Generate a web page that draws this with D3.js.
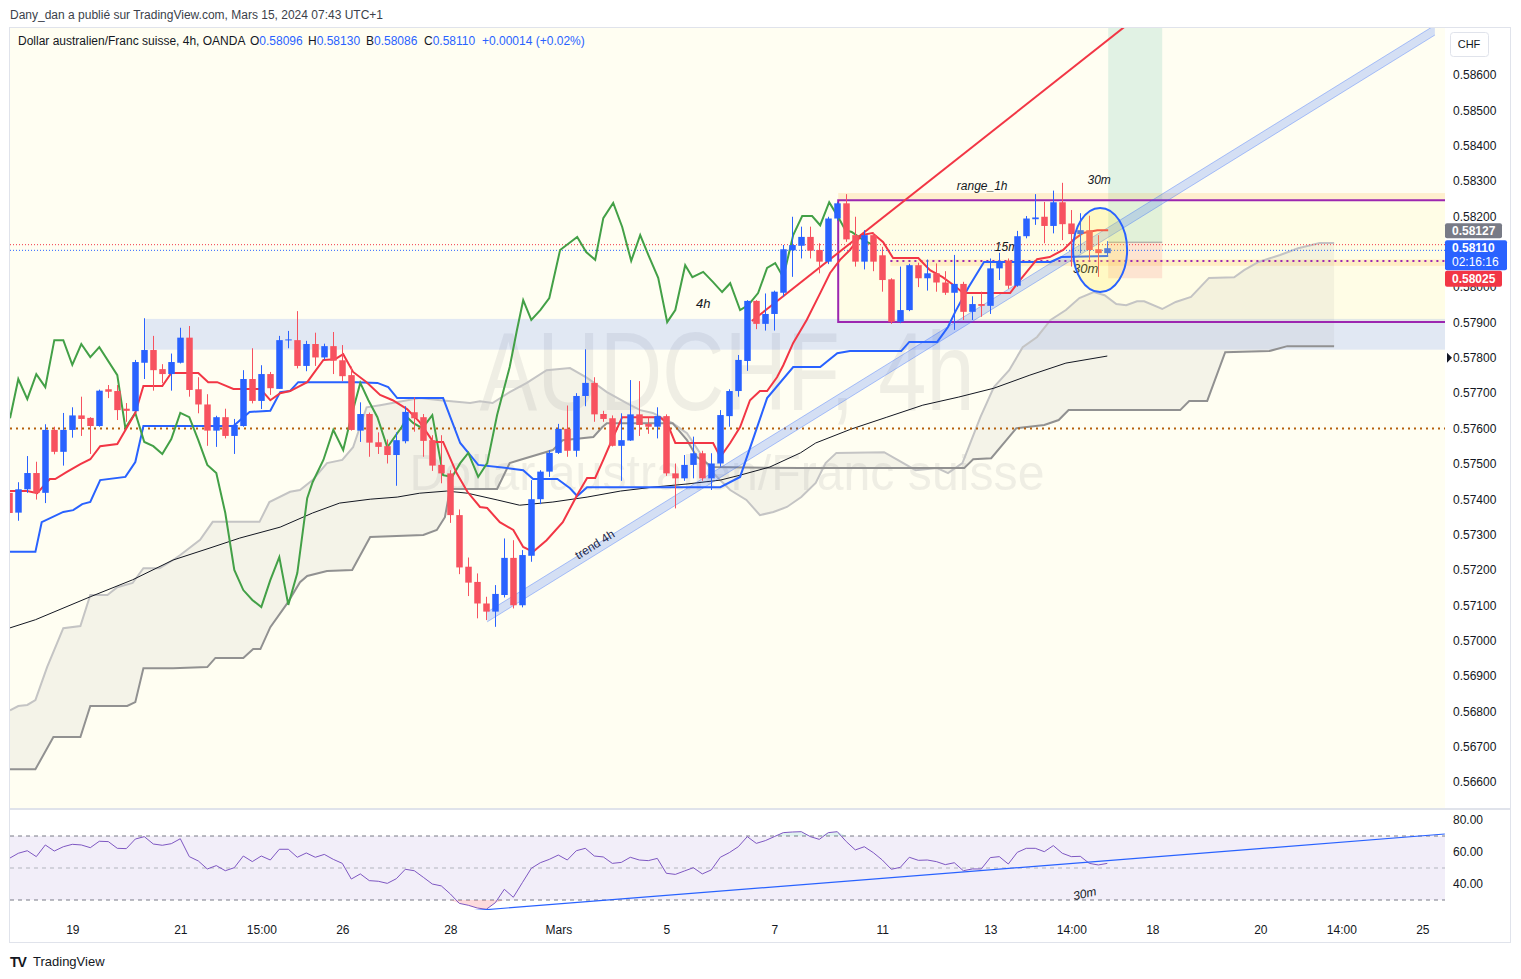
<!DOCTYPE html>
<html>
<head>
<meta charset="utf-8">
<script src="https://cdn.jsdelivr.net/npm/d3@7"></script>
<style>
  body { margin: 0; background: #fff; }
  svg { font-family: "Liberation Sans", Arial, sans-serif; display: block; }
</style>
</head>
<body>
<svg id="chart" width="1521" height="979"></svg>
<script>
// bougies 4h AUDCHF : [open, high, low, close]
const candles = [
  [0.57418,0.57440,0.57340,0.57361],[0.57362,0.57448,0.57339,0.57428],[0.57428,0.57522,0.57418,0.57474],
  [0.57474,0.57506,0.57399,0.57418],[0.57418,0.57612,0.57389,0.57596],[0.57596,0.57605,0.57527,0.57534],
  [0.57534,0.57644,0.57495,0.57596],[0.57596,0.57660,0.57574,0.57637],[0.57637,0.57690,0.57579,0.57627],
  [0.57630,0.57632,0.57528,0.57607],[0.57607,0.57710,0.57605,0.57707],[0.57711,0.57723,0.57686,0.57704],
  [0.57706,0.57723,0.57624,0.57652],[0.57656,0.57672,0.57619,0.57650],[0.57649,0.57794,0.57649,0.57788],
  [0.57786,0.57912,0.57740,0.57822],[0.57822,0.57862,0.57707,0.57765],[0.57768,0.57782,0.57728,0.57754],
  [0.57754,0.57812,0.57707,0.57788],[0.57786,0.57885,0.57784,0.57857],[0.57857,0.57890,0.57690,0.57709],
  [0.57711,0.57745,0.57643,0.57668],[0.57668,0.57697,0.57551,0.57594],[0.57594,0.57636,0.57548,0.57632],
  [0.57632,0.57656,0.57572,0.57579],[0.57579,0.57627,0.57528,0.57610],[0.57607,0.57765,0.57605,0.57740],
  [0.57740,0.57827,0.57671,0.57678],[0.57678,0.57779,0.57655,0.57754],[0.57754,0.57760,0.57695,0.57714],
  [0.57712,0.57862,0.57712,0.57850],[0.57850,0.57876,0.57827,0.57852],[0.57850,0.57932,0.57770,0.57777],
  [0.57777,0.57848,0.57762,0.57839],[0.57839,0.57871,0.57777,0.57801],[0.57801,0.57840,0.57795,0.57833],
  [0.57833,0.57873,0.57754,0.57792],[0.57793,0.57836,0.57734,0.57748],[0.57751,0.57775,0.57594,0.57596],
  [0.57594,0.57674,0.57562,0.57641],[0.57641,0.57645,0.57520,0.57560],[0.57561,0.57589,0.57528,0.57548],
  [0.57550,0.57569,0.57501,0.57525],[0.57525,0.57589,0.57438,0.57567],[0.57564,0.57663,0.57558,0.57647],
  [0.57646,0.57688,0.57591,0.57629],[0.57632,0.57641,0.57520,0.57565],[0.57567,0.57581,0.57480,0.57495],
  [0.57497,0.57581,0.57445,0.57473],[0.57473,0.57482,0.57333,0.57355],[0.57355,0.57371,0.57188,0.57207],
  [0.57209,0.57235,0.57126,0.57164],[0.57166,0.57190,0.57063,0.57105],[0.57105,0.57124,0.57058,0.57082],
  [0.57082,0.57157,0.57039,0.57132],[0.57129,0.57289,0.57122,0.57234],[0.57234,0.57284,0.57091,0.57100],
  [0.57100,0.57256,0.57094,0.57242],[0.57240,0.57454,0.57223,0.57400],[0.57400,0.57482,0.57386,0.57478],
  [0.57478,0.57539,0.57463,0.57531],[0.57531,0.57613,0.57528,0.57599],[0.57599,0.57665,0.57520,0.57537],
  [0.57537,0.57700,0.57520,0.57692],[0.57692,0.57824,0.57663,0.57729],[0.57729,0.57745,0.57619,0.57640],
  [0.57641,0.57650,0.57619,0.57627],[0.57629,0.57637,0.57549,0.57551],[0.57551,0.57643,0.57452,0.57567],
  [0.57566,0.57737,0.57565,0.57640],[0.57640,0.57734,0.57579,0.57610],[0.57613,0.57630,0.57585,0.57605],
  [0.57605,0.57660,0.57572,0.57635],[0.57635,0.57640,0.57466,0.57473],[0.57473,0.57501,0.57374,0.57459],
  [0.57459,0.57525,0.57452,0.57497],[0.57497,0.57577,0.57459,0.57530],[0.57530,0.57537,0.57452,0.57459],
  [0.57459,0.57530,0.57426,0.57501],[0.57501,0.57652,0.57492,0.57638],[0.57635,0.57711,0.57605,0.57706],
  [0.57706,0.57808,0.57690,0.57794],[0.57791,0.57963,0.57763,0.57961],[0.57961,0.57963,0.57881,0.57896],
  [0.57896,0.57982,0.57877,0.57924],[0.57924,0.57990,0.57877,0.57987],[0.57984,0.58119,0.57973,0.58107],
  [0.58104,0.58199,0.58029,0.58119],[0.58117,0.58171,0.58081,0.58142],[0.58142,0.58171,0.58081,0.58103],
  [0.58105,0.58124,0.58039,0.58072],[0.58072,0.58199,0.58065,0.58194],[0.58194,0.58240,0.58188,0.58237],
  [0.58237,0.58263,0.58128,0.58135],[0.58147,0.58199,0.58058,0.58072],[0.58072,0.58161,0.58050,0.58147],
  [0.58147,0.58155,0.58045,0.58072],[0.58090,0.58114,0.57987,0.58020],[0.58022,0.58025,0.57896,0.57902],
  [0.57902,0.58058,0.57898,0.57935],[0.57935,0.58066,0.57932,0.58062],[0.58062,0.58069,0.58000,0.58025],
  [0.58025,0.58078,0.57990,0.58039],[0.58039,0.58067,0.57987,0.58013],[0.58013,0.58045,0.57978,0.57984],
  [0.57984,0.58091,0.57879,0.58009],[0.58009,0.58015,0.57907,0.57930],[0.57930,0.57974,0.57907,0.57952],
  [0.57952,0.57987,0.57916,0.57947],[0.57947,0.58081,0.57924,0.58053],[0.58053,0.58097,0.58020,0.58072],
  [0.58075,0.58081,0.57995,0.58004],[0.58004,0.58159,0.58001,0.58144],[0.58144,0.58201,0.58138,0.58194],
  [0.58192,0.58263,0.58176,0.58197],[0.58199,0.58241,0.58124,0.58173],[0.58173,0.58273,0.58152,0.58240],
  [0.58240,0.58295,0.58133,0.58178],[0.58180,0.58218,0.58058,0.58150],[0.58150,0.58209,0.58096,0.58161],
  [0.58161,0.58202,0.58077,0.58105],[0.58107,0.58147,0.58029,0.58096],[0.58096,0.58130,0.58086,0.58110]
];

// Ichimoku + MA : sommets [index bougie, prix]
const tenkan = [[0.08,0.57423],[2,0.57423],[3.1,0.57417],[4.5,0.57457],[5.1,0.57457],[6.4,0.57477],[7.9,0.57499],[9,0.57513],[10.1,0.5755],[12,0.57556],[13.1,0.57604],[14,0.57644],[14.9,0.5772],[17,0.5772],[18,0.57757],[21,0.57757],[22.1,0.57731],[23.1,0.57731],[24.9,0.57712],[27.9,0.57712],[29,0.5768],[30.1,0.577],[31.2,0.57706],[33.1,0.57731],[34.9,0.57794],[36.2,0.57796],[37.1,0.5781],[38.2,0.5776],[39.7,0.57731],[41.2,0.57695],[42.6,0.5768],[44.2,0.57655],[45.6,0.57618],[47.1,0.57562],[48.2,0.57562],[49.7,0.57474],[50.9,0.57421],[52.3,0.57378],[53.1,0.57375],[54.5,0.57335],[56,0.57313],[57.1,0.57265],[58.2,0.57251],[59.7,0.57284],[61.5,0.57335],[63.1,0.57412],[64.2,0.5746],[65.1,0.5746],[66,0.57511],[67.1,0.57576],[68.1,0.57632],[72.3,0.57632],[73.1,0.57615],[74,0.57559],[78.2,0.57559],[79,0.57519],[80.1,0.57559],[81.2,0.57604],[82.3,0.5768],[83.4,0.57706],[84.2,0.57706],[85.3,0.57745],[86,0.57779],[87.1,0.57842],[88.6,0.57907],[90.1,0.57983],[91.2,0.5804],[92.3,0.58077],[93.4,0.58105],[94.7,0.58147],[95.9,0.58153],[97.1,0.58127],[98.2,0.58082],[101,0.58082],[102.3,0.58048],[103.7,0.58028],[104.9,0.58006],[106,0.57983],[111.2,0.57983],[112.3,0.5802],[114.2,0.58079],[115.6,0.58085],[117.1,0.58105],[118.2,0.58133],[119.3,0.58153],[120.9,0.58161],[122.1,0.58161]];
const kijun = [[0.08,0.57251],[2.9,0.57251],[3.6,0.57335],[6,0.57364],[7.1,0.57369],[8.1,0.57386],[9,0.57392],[10.1,0.57454],[12.9,0.57463],[14,0.57505],[14.9,0.57607],[24.9,0.57607],[26.7,0.57647],[29,0.5765],[30.1,0.57703],[31.2,0.57706],[32.1,0.57731],[38.6,0.57731],[40.9,0.57729],[42.1,0.57717],[43.1,0.57686],[48.2,0.57686],[50.1,0.57559],[52.1,0.57497],[55.3,0.57488],[57.1,0.57482],[58.2,0.57457],[60.9,0.57457],[62.3,0.57431],[63.1,0.57409],[64.2,0.57434],[79,0.57434],[81.2,0.57463],[84.2,0.57686],[87.1,0.57774],[90.1,0.57774],[92,0.57813],[93.4,0.57819],[99.1,0.57819],[100,0.57845],[103.1,0.57845],[104.3,0.57887],[105.1,0.5793],[106.6,0.58],[108.3,0.58071],[115.7,0.58071],[116.9,0.58085],[122.1,0.58088]];
const chikou = [[0.08,0.57629],[1,0.5774],[2,0.57683],[3,0.57754],[4,0.57717],[5,0.5785],[6,0.5785],[7,0.5778],[8,0.57839],[9,0.57802],[10,0.5783],[12,0.57751],[12.9,0.57601],[14,0.57644],[15,0.57562],[16,0.5755],[17,0.57528],[18,0.5757],[19,0.57644],[20,0.57632],[21,0.57567],[22,0.57497],[23,0.57474],[24,0.57361],[25,0.572],[26,0.57143],[27,0.57115],[28,0.57095],[29,0.57171],[30,0.57236],[31,0.57101],[32,0.57191],[33.1,0.57403],[33.7,0.57448],[34.9,0.57511],[36,0.57596],[37.1,0.57539],[38.1,0.57644],[39,0.57729],[39.9,0.5768],[40.9,0.57632],[42,0.57547],[43.6,0.57604],[44.2,0.57632],[44.9,0.57615],[45.9,0.57601],[47,0.57638],[48.2,0.57468],[49.2,0.57463],[50.1,0.57502],[51,0.57531],[52.1,0.57463],[53.1,0.57502],[54.2,0.57638],[55.6,0.57774],[56.4,0.57878],[57.1,0.57963],[58,0.57907],[59,0.57935],[60,0.57969],[61.2,0.58105],[63.1,0.58142],[64.1,0.58099],[65.1,0.58077],[66,0.58195],[67.1,0.58238],[68.1,0.5817],[69.1,0.58074],[70.1,0.58147],[71,0.58091],[72.1,0.58026],[73.1,0.57901],[74,0.57935],[75.1,0.58062],[75.9,0.58028],[77.1,0.58043],[78.2,0.58014],[79.2,0.57986],[80.1,0.58011],[81.2,0.57935],[82.1,0.57949],[83.2,0.57983],[84.2,0.58054],[85.1,0.58068],[86,0.58028],[87.1,0.58147],[88.1,0.58201],[89.2,0.58201],[90.1,0.58175],[91.1,0.5824],[92.1,0.58198],[92.9,0.58161],[93.6,0.58156],[94.9,0.58133],[96,0.58119]];
const spanA = [[0.08,0.56803],[1,0.56815],[2,0.56818],[2.9,0.56832],[4.2,0.56925],[6,0.57035],[7.9,0.57041],[9,0.57129],[10.9,0.57129],[12,0.57151],[13.7,0.57163],[14.9,0.57205],[16.7,0.57205],[18.2,0.57228],[19,0.57242],[21.2,0.57285],[22.6,0.57336],[27.8,0.57336],[28.9,0.57392],[31.2,0.57421],[32.3,0.57426],[33.7,0.57454],[35.3,0.57502],[37,0.57511],[38.2,0.57547],[39.7,0.5766],[41.2,0.57666],[45.6,0.57686],[47.9,0.5768],[51.2,0.57672],[52.3,0.57677],[53.7,0.57672],[55.6,0.57703],[57.5,0.57729],[59.7,0.57765],[62.3,0.57771],[64.2,0.57743],[66.4,0.57703],[68.6,0.57672],[70.1,0.57652],[71.5,0.57644],[73.7,0.57615],[75.3,0.57587],[78.2,0.57474],[80.1,0.57426],[81.9,0.57398],[83.4,0.57355],[84.9,0.57364],[86.4,0.57378],[88,0.57406],[89.6,0.57446],[90.7,0.57502],[91.9,0.57531],[97.2,0.57533],[98.7,0.57511],[100.7,0.57482],[103.1,0.57488],[104.3,0.57474],[105.9,0.57502],[106.6,0.57547],[107.9,0.57632],[109.4,0.57717],[111.1,0.57765],[112.6,0.5783],[114.2,0.57859],[115.7,0.57907],[117.4,0.57935],[118.9,0.57969],[120.5,0.57986],[121.7,0.57977],[123,0.57952],[124.1,0.57949],[125.3,0.5796],[126.1,0.5796],[128.1,0.57938],[129.6,0.57958],[131.3,0.57972],[133.3,0.58026],[136.1,0.58028],[137.2,0.58048],[138.8,0.58071],[141.2,0.58091],[143.2,0.5811],[145.6,0.58125],[147.2,0.58125]];
const spanB = [[0.08,0.56636],[2.9,0.56636],[4.9,0.56727],[7.9,0.56727],[9,0.56815],[13.1,0.56815],[14,0.56826],[14.9,0.56922],[18.2,0.56922],[22,0.56925],[22.9,0.56951],[26,0.56951],[27.1,0.56976],[27.9,0.56976],[29,0.57038],[30.9,0.57106],[32.3,0.57165],[33.1,0.57183],[35.3,0.57197],[38.1,0.572],[40.1,0.57293],[46,0.57299],[47.5,0.57313],[48.4,0.57349],[48.97,0.57429],[54.2,0.57429],[55.6,0.57502],[56.7,0.57511],[60.4,0.57539],[61.5,0.57567],[64.9,0.57576],[65.9,0.57604],[66.4,0.57615],[73.7,0.57615],[75.3,0.57567],[76.4,0.57519],[78.2,0.57491],[87.9,0.57488],[106.1,0.57488],[107.1,0.57513],[109.1,0.57516],[111.9,0.57601],[115,0.5761],[116.6,0.57624],[117.7,0.57652],[130.1,0.57652],[131.1,0.57678],[133.1,0.57678],[135.1,0.57816],[140,0.57819],[142,0.57833],[147.2,0.57833]];
const ma200 = [[0.08,0.57036],[2.9,0.57059],[9,0.57124],[13.7,0.57172],[18.2,0.57228],[22.3,0.57262],[25.6,0.5729],[30.1,0.57321],[33.7,0.57361],[36.7,0.57389],[40.1,0.574],[43.1,0.57406],[45.6,0.57417],[48.6,0.57423],[50.9,0.57417],[54.2,0.57398],[56.7,0.57383],[60.4,0.57392],[64.2,0.57406],[67.9,0.57423],[71.5,0.57434],[75.3,0.57443],[79,0.57454],[81.2,0.57468],[84.5,0.57491],[87.9,0.57531],[89.6,0.57559],[93.5,0.57598],[97.5,0.57632],[101.5,0.57666],[105.5,0.57689],[109.4,0.57714],[113.4,0.57751],[117.4,0.57785],[122,0.57805]];

// RSI 14, une valeur par bougie
const rsi = [56.0,59.2,60.8,57.1,64.4,60.6,63.3,64.8,64.4,62.7,66.7,66.5,62.3,62.1,68.1,69.6,65.0,64.2,65.2,68.3,
  57.1,54.4,49.4,51.5,48.3,50.2,57.5,54.0,57.5,55.0,61.7,61.7,56.7,59.4,56.7,58.5,55.4,52.9,43.1,46.3,
  42.1,41.7,40.4,43.3,49.2,48.3,44.2,40.0,38.8,33.8,27.9,26.7,25.0,24.2,28.3,36.7,31.7,40.8,49.8,53.3,
  55.4,58.1,55.0,60.8,62.3,57.5,56.9,52.9,53.5,56.7,55.0,54.6,56.0,46.7,46.0,48.1,50.2,46.3,48.8,56.7,
  59.6,63.3,69.6,65.4,67.1,69.6,72.1,72.5,72.7,69.6,67.9,72.1,72.7,66.5,61.3,63.3,59.6,55.0,49.2,50.4,
  56.7,54.8,55.0,54.0,52.1,53.3,48.3,49.4,49.4,56.5,57.1,52.5,59.8,62.3,62.3,60.2,64.0,59.2,57.1,57.3,
  52.9,51.9,52.9];

// axes
const priceTicks = d3.range(0, 21).map(k => +(0.566 + k * 0.001).toFixed(3)).filter(p => p !== 0.581);
const rsiTicks = [80, 60, 40];
const rsiLevels = [70, 50, 30];
const timeTicks = [[7,"19"],[19,"21"],[28,"15:00"],[37,"26"],[49,"28"],[61,"Mars"],[73,"5"],[85,"7"],
  [97,"11"],[109,"13"],[118,"14:00"],[127,"18"],[139,"20"],[148,"14:00"],[157,"25"]];

// dessins : [index, prix]
const zone = { from: 15.1, to: 175, top: 0.57910, bottom: 0.57823 };
const rangeBox = { from: 92.1, to: 175, top: 0.58246, bottom: 0.57901 };
const peachBands = [[92.1, 0.58266, 0.58246], [97.9, 0.58078, 0.58060]];
const longPos = { from: 122.1, to: 128.1, target: 0.5895, entry: 0.58127, stop: 0.58025 };
const redTrend = [[82.5, 0.57904], [123.9, 0.58736]];
const channel = [[53.1, 0.57067], [158.4, 0.58727]];
const channelHalf = 0.00014;
const rsiTrend = [[51, 23.1], [159.5, 71.25]];

const bull = "#2962ff", bear = "#f7525f";
const svg = d3.select("#chart");
const P = { left: 10, right: 1445, top: 28, bottom: 808 };

const x = d3.scaleLinear().domain([0, 122]).range([9.3, 1107.3]);
const y = d3.scaleLinear().domain([0.566, 0.586]).range([782, 75]);
const yr = d3.scaleLinear().domain([40, 80]).range([884, 820]);

const defs = svg.append("defs");
defs.append("clipPath").attr("id", "clipMain").append("rect")
  .attr("x", P.left).attr("y", P.top).attr("width", P.right - P.left).attr("height", P.bottom - P.top);
defs.append("clipPath").attr("id", "clipRsi").append("rect")
  .attr("x", P.left).attr("y", 810).attr("width", P.right - P.left).attr("height", 100);
defs.append("clipPath").attr("id", "clipAxis").append("rect")
  .attr("x", P.right).attr("y", P.top).attr("width", 70).attr("height", P.bottom - P.top);

// en-tête
svg.append("text").attr("x", 10).attr("y", 19).attr("font-size", 12).attr("fill", "#3b3f4a")
  .text("Dany_dan a publié sur TradingView.com, Mars 15, 2024 07:43 UTC+1");

// cadre
svg.append("rect").attr("x", 9.5).attr("y", 27.5).attr("width", 1501).attr("height", 915)
  .attr("fill", "#fff").attr("stroke", "#e0e3eb");
svg.append("rect").attr("x", P.left).attr("y", P.top).attr("width", P.right - P.left).attr("height", P.bottom - P.top)
  .attr("fill", "#fffef2");

const g = svg.append("g").attr("clip-path", "url(#clipMain)");

// filigrane
g.append("text").attr("x", 727).attr("y", 410).attr("text-anchor", "middle")
  .attr("font-size", 112).attr("textLength", 495).attr("lengthAdjust", "spacingAndGlyphs")
  .attr("fill", "rgba(120,123,134,0.12)").text("AUDCHF, 4h");
g.append("text").attr("x", 727).attr("y", 490).attr("text-anchor", "middle")
  .attr("font-size", 50).attr("textLength", 635).attr("lengthAdjust", "spacingAndGlyphs")
  .attr("fill", "rgba(120,123,134,0.12)").text("Dollar australien/Franc suisse");

// zone 0.5782 - 0.5791
g.append("rect").attr("x", x(zone.from)).attr("width", x(zone.to) - x(zone.from))
  .attr("y", y(zone.top)).attr("height", y(zone.bottom) - y(zone.top))
  .attr("fill", "rgba(41,98,255,0.14)");

// position longue
g.append("rect").attr("x", x(longPos.from)).attr("width", x(longPos.to) - x(longPos.from))
  .attr("y", y(longPos.target)).attr("height", y(longPos.entry) - y(longPos.target))
  .attr("fill", "rgba(8,153,129,0.12)");
g.append("rect").attr("x", x(longPos.from)).attr("width", x(longPos.to) - x(longPos.from))
  .attr("y", y(longPos.entry)).attr("height", y(longPos.stop) - y(longPos.entry))
  .attr("fill", "rgba(242,54,69,0.13)");
g.append("line").attr("x1", x(longPos.from)).attr("x2", x(longPos.to))
  .attr("y1", y(longPos.entry)).attr("y2", y(longPos.entry)).attr("stroke", "#9598a1");

// range_1h
g.append("rect").attr("x", x(rangeBox.from)).attr("width", x(rangeBox.to) - x(rangeBox.from))
  .attr("y", y(rangeBox.top)).attr("height", y(rangeBox.bottom) - y(rangeBox.top))
  .attr("fill", "rgba(255,235,59,0.06)");
g.selectAll("rect.peach").data(peachBands).join("rect")
  .attr("x", d => x(d[0])).attr("width", d => x(175) - x(d[0]))
  .attr("y", d => y(d[1])).attr("height", d => y(d[2]) - y(d[1]))
  .attr("fill", "rgba(255,152,0,0.15)");

// nuage
const line = d3.line().x(d => x(d[0])).y(d => y(d[1]));
g.append("path").attr("d", line(spanA.concat(spanB.slice().reverse())) + "Z")
  .attr("fill", "rgba(150,150,150,0.1)");
g.append("path").attr("d", line(spanA)).attr("fill", "none").attr("stroke", "#c4c4c4").attr("stroke-width", 2);
g.append("path").attr("d", line(spanB)).attr("fill", "none").attr("stroke", "#919191").attr("stroke-width", 2);

// MM 200
g.append("path").attr("d", line(ma200)).attr("fill", "none").attr("stroke", "#131722").attr("stroke-width", 1);

// lignes pointillées
const hline = (p, from, color, dash, w) => g.append("line")
  .attr("x1", from == null ? P.left : x(from)).attr("x2", P.right)
  .attr("y1", y(p)).attr("y2", y(p)).attr("stroke", color).attr("stroke-width", w).attr("stroke-dasharray", dash);
hline(0.57600, null, "#b5600c", "2,4", 2);
hline(0.58074, 97.9, "#9c27b0", "2,4", 2);
hline(0.58120, null, "#f23645", "1,2", 1);
hline(0.58104, null, "#2962ff", "1,2", 1);

// cadre range_1h
const rb = g.append("g").attr("stroke", "#9c27b0").attr("stroke-width", 2).attr("fill", "none");
rb.append("path").attr("d",
  `M${x(rangeBox.to)},${y(rangeBox.top)}H${x(rangeBox.from)}V${y(rangeBox.bottom)}H${x(rangeBox.to)}`);

// canal trend 4h
const chPoly = [[channel[0][0], channel[0][1] + channelHalf], [channel[1][0], channel[1][1] + channelHalf],
  [channel[1][0], channel[1][1] - channelHalf], [channel[0][0], channel[0][1] - channelHalf]];
g.append("path").attr("d", line(chPoly) + "Z").attr("fill", "rgba(41,98,255,0.2)");
[channelHalf, -channelHalf].forEach(o => g.append("path")
  .attr("d", line(channel.map(d => [d[0], d[1] + o]))).attr("stroke", "rgba(41,98,255,0.35)").attr("fill", "none"));

// droite rouge
g.append("path").attr("d", line(redTrend)).attr("stroke", "#f23645").attr("stroke-width", 2).attr("fill", "none");

// textes sous les bougies
const label = (t, i, p, opts = {}) => g.append("text").attr("x", x(i)).attr("y", y(p))
  .attr("font-size", opts.size || 12).attr("font-style", opts.italic === false ? "normal" : "italic")
  .attr("fill", opts.fill || "#131722").attr("text-anchor", "middle")
  .attr("transform", opts.rot ? `rotate(${opts.rot},${x(i)},${y(p)})` : null).text(t);
label("4h", 77.1, 0.57940, { size: 13 });
label("range_1h", 108.1, 0.58275);
label("30m", 121.1, 0.58292);
label("15m", 110.8, 0.58102);
label("30m", 119.6, 0.58040, { size: 13 });
label("trend 4h", 65.3, 0.57262, { rot: -32, italic: false, fill: "#1a2547", size: 12 });

// Ichimoku
g.append("path").attr("d", line(kijun)).attr("fill", "none").attr("stroke", "#2962ff").attr("stroke-width", 2);
g.append("path").attr("d", line(chikou)).attr("fill", "none").attr("stroke", "#43a047").attr("stroke-width", 2);
g.append("path").attr("d", line(tenkan)).attr("fill", "none").attr("stroke", "#f23645").attr("stroke-width", 2);

// bougies
const bw = 6.5;
const cg = g.append("g");
cg.selectAll("line").data(candles).join("line")
  .attr("x1", (d, i) => Math.round(x(i)) + 0.5).attr("x2", (d, i) => Math.round(x(i)) + 0.5)
  .attr("y1", d => y(d[1])).attr("y2", d => y(d[2]))
  .attr("stroke", d => d[3] >= d[0] ? bull : bear);
cg.selectAll("rect").data(candles).join("rect")
  .attr("x", (d, i) => Math.round(x(i)) + 0.5 - bw / 2).attr("width", bw)
  .attr("y", d => y(Math.max(d[0], d[3])))
  .attr("height", d => Math.max(1, Math.abs(y(d[0]) - y(d[3]))))
  .attr("fill", d => d[3] >= d[0] ? bull : bear);

// cercle 30m
g.append("ellipse").attr("cx", x(121.2)).attr("cy", y(0.58105))
  .attr("rx", x(124.2) - x(121.2)).attr("ry", y(0.58105) - y(0.58224))
  .attr("fill", "rgba(255,235,59,0.2)").attr("stroke", "#2962ff").attr("stroke-width", 2);

// légende
const leg = svg.append("text").attr("x", 18).attr("y", 45).attr("font-size", 12).attr("fill", "#131722");
leg.append("tspan").text("Dollar australien/Franc suisse, 4h, OANDA");
[["O", "0.58096", 250], ["H", "0.58130", 308], ["B", "0.58086", 366], ["C", "0.58110", 424]].forEach(([k, v, px]) => {
  leg.append("tspan").attr("x", px).text(k);
  leg.append("tspan").attr("fill", "#2962ff").text(v);
});
leg.append("tspan").attr("x", 482).attr("fill", "#2962ff").text("+0.00014 (+0.02%)");

// axe des prix (0.58000 en partie caché par l'étiquette rouge)
const yAxis = d3.axisRight(y).tickValues(priceTicks).tickFormat(d3.format(".5f")).tickSize(0).tickPadding(8);
svg.append("g").attr("clip-path", "url(#clipAxis)")
  .append("g").attr("transform", `translate(${P.right},0)`).call(yAxis)
  .call(a => a.select(".domain").remove())
  .selectAll("text").attr("font-size", 12).attr("fill", "#131722").attr("font-family", "Liberation Sans, Arial, sans-serif");
svg.append("path").attr("d", `M${P.right + 2},${y(0.578) - 5}L${P.right + 7},${y(0.578)}L${P.right + 2},${y(0.578) + 5}Z`)
  .attr("fill", "#131722");

// étiquettes de prix
const tag = (top, h, w, color, lines) => {
  svg.append("rect").attr("x", P.right).attr("y", top).attr("width", w).attr("height", h).attr("rx", 2).attr("fill", color);
  lines.forEach((t, k) => svg.append("text").attr("x", P.right + 7).attr("y", top + 12 + k * 14)
    .attr("font-size", 12).attr("fill", "#fff").attr("font-weight", k === 0 ? "bold" : "normal").text(t));
};
tag(y(0.58127) - 19, 15, 57, "#787b86", ["0.58127"]);
tag(y(0.58110) - 8, 30, 62, "#2962ff", ["0.58110", "02:16:16"]);
tag(y(0.58025) - 7.5, 16, 57, "#f23645", ["0.58025"]);

svg.append("rect").attr("x", 1450.5).attr("y", 32.5).attr("width", 38).attr("height", 24).attr("rx", 3)
  .attr("fill", "#fff").attr("stroke", "#e0e3eb");
svg.append("text").attr("x", 1469).attr("y", 48).attr("text-anchor", "middle").attr("font-size", 11)
  .attr("fill", "#131722").text("CHF");

// panneau RSI
svg.append("line").attr("x1", P.left).attr("x2", 1510).attr("y1", 809).attr("y2", 809)
  .attr("stroke", "#e0e3eb").attr("stroke-width", 2);
const rg = svg.append("g").attr("clip-path", "url(#clipRsi)");
rg.append("rect").attr("x", P.left).attr("width", P.right - P.left).attr("y", yr(70)).attr("height", yr(30) - yr(70))
  .attr("fill", "rgba(126,87,194,0.1)");
rg.selectAll("line.lvl").data(rsiLevels).join("line")
  .attr("x1", P.left).attr("x2", P.right).attr("y1", d => yr(d)).attr("y2", d => yr(d))
  .attr("stroke", d => d === 50 ? "#b2b5be" : "#787b86").attr("stroke-dasharray", "4,4");
rg.append("path").datum(rsi)
  .attr("d", d3.area().x((d, i) => x(i)).y0(yr(30)).y1(d => yr(Math.min(d, 30))))
  .attr("fill", "rgba(242,54,69,0.18)");
rg.append("path").datum(rsi)
  .attr("d", d3.area().x((d, i) => x(i)).y0(yr(70)).y1(d => yr(Math.max(d, 70))))
  .attr("fill", "rgba(8,153,129,0.12)");
rg.append("path").datum(rsi).attr("d", d3.line().x((d, i) => x(i)).y(d => yr(d)))
  .attr("fill", "none").attr("stroke", "#7e57c2").attr("stroke-width", 1);
rg.append("path").datum(rsiTrend).attr("d", d3.line().x(d => x(d[0])).y(d => yr(d[1])))
  .attr("fill", "none").attr("stroke", "#2962ff").attr("stroke-width", 1.2);
rg.append("text").attr("x", x(119.6)).attr("y", yr(31.5)).attr("text-anchor", "middle").attr("font-size", 12)
  .attr("font-style", "italic").attr("fill", "#131722")
  .attr("transform", `rotate(-13,${x(119.6)},${yr(31.5)})`).text("30m");

const rAxis = d3.axisRight(yr).tickValues(rsiTicks).tickFormat(d3.format(".2f")).tickSize(0).tickPadding(8);
svg.append("g").attr("transform", `translate(${P.right},0)`).call(rAxis)
  .call(a => a.select(".domain").remove())
  .selectAll("text").attr("font-size", 12).attr("fill", "#131722").attr("font-family", "Liberation Sans, Arial, sans-serif");

// axe du temps
const xAxis = d3.axisBottom(x).tickValues(timeTicks.map(d => d[0]))
  .tickFormat(i => timeTicks.find(d => d[0] === i)[1]).tickSize(0).tickPadding(0);
svg.append("g").attr("transform", "translate(0,925)").call(xAxis)
  .call(a => a.select(".domain").remove())
  .selectAll("text").attr("font-size", 12).attr("fill", "#131722").attr("font-family", "Liberation Sans, Arial, sans-serif");

// logo
svg.append("text").attr("x", 10).attr("y", 967).attr("font-size", 14).attr("font-weight", "bold")
  .attr("fill", "#131722").attr("letter-spacing", -1).text("TV");
svg.append("text").attr("x", 33).attr("y", 966).attr("font-size", 13).attr("fill", "#131722").text("TradingView");
</script>
</body>
</html>
